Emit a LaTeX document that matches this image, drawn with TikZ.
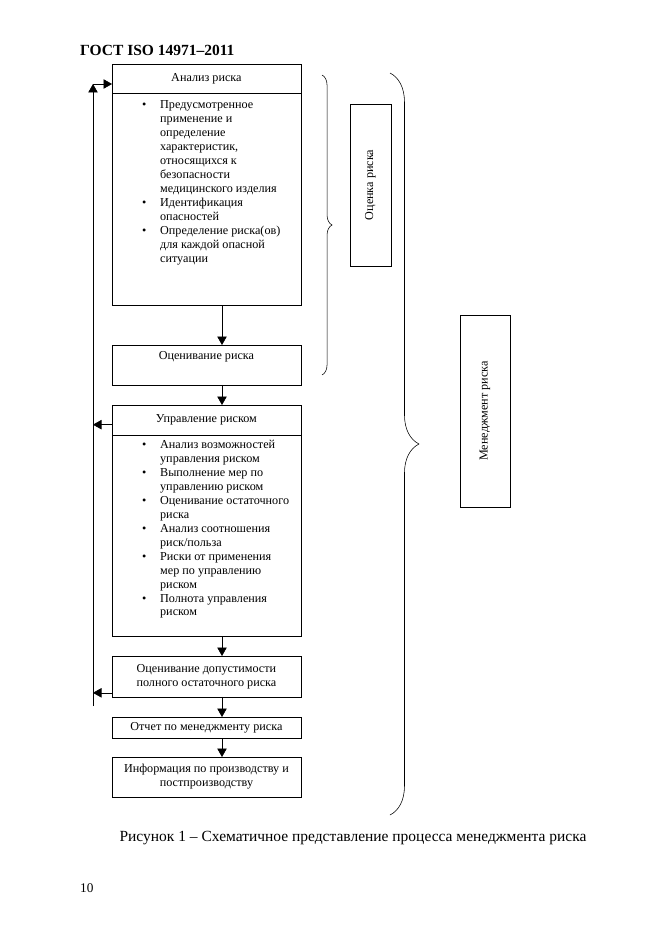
\documentclass[tikz,border=0pt]{standalone}
\usepackage{fontspec}
\setmainfont{Liberation Serif}
\usetikzlibrary{arrows.meta,decorations.pathreplacing,calc}

\begin{document}
\begin{tikzpicture}[x=0.3177mm,y=-0.3177mm,
		stepbox/.style={draw, line width=0.6pt, minimum width=60mm, anchor=north west, inner sep=0pt, outer sep=0pt, align=center, font=\fontsize{11}{12.6}\selectfont},
		sidebox/.style={draw, line width=0.6pt, rotate=90, inner sep=0pt, font=\fontsize{11}{12.6}\selectfont},
		listtext/.style={anchor=north west, inner sep=0pt, align=left, font=\fontsize{11}{12.6}\selectfont},
		flow/.style={-{Triangle[length=2.7mm,width=3mm]}, line width=0.5pt},
		bracket/.style={decorate, line width=0.5pt}
		]
	\useasboundingbox (0,0) rectangle (661,936);
	\node[anchor=west, inner sep=0pt, font=\bfseries\fontsize{14}{16}\selectfont] (gost) at (80,50) {ГОСТ ISO 14971–2011};
	\coordinate (spine) at (222,0);
	\coordinate (back) at (93,706);
	\coordinate (backtop) at (93,84);
	\node[stepbox, minimum height=9.2mm] (analiz) at (112,64) {Анализ риска};
	\node[stepbox, minimum height=67.4mm, anchor=north] (analizbody) at (analiz.south) {};
	\node[listtext] (analizlist) at (142,98.7) {%
		\begin{tabular}{@{}p{5.7mm}@{}l@{}}
			\textbullet & Предусмотренное\\
			& применение и\\
			& определение\\
			& характеристик,\\
			& относящихся к\\
			& безопасности\\
			& медицинского изделия\\
			\textbullet & Идентификация\\
			& опасностей\\
			\textbullet & Определение риска(ов)\\
			& для каждой опасной\\
			& ситуации
		\end{tabular}};
	\node[stepbox, minimum height=12.7mm] (ocenka) at (112,345) {};
	\node[inner sep=0pt, font=\fontsize{11}{12.6}\selectfont] (ocenkat) at ($(ocenka.north)+(0,12)$) {Оценивание риска};
	\node[stepbox, minimum height=9.5mm] (upravl) at (112,405) {Управление риском};
	\node[stepbox, minimum height=63.9mm, anchor=north] (upravlbody) at (upravl.south) {};
	\node[listtext] (upravllist) at (142,438.7) {%
		\begin{tabular}{@{}p{5.7mm}@{}l@{}}
			\textbullet & Анализ возможностей\\
			& управления риском\\
			\textbullet & Выполнение мер по\\
			& управлению риском\\
			\textbullet & Оценивание остаточного\\
			& риска\\
			\textbullet & Анализ соотношения\\
			& риск/польза\\
			\textbullet & Риски от применения\\
			& мер по управлению\\
			& риском\\
			\textbullet & Полнота управления\\
			& риском
		\end{tabular}};
	\node[stepbox, minimum height=13mm] (dopust) at (112,656) {Оценивание допустимости\\полного остаточного риска};
	\node[stepbox, minimum height=6.7mm] (otchet) at (112,717) {Отчет по менеджменту риска};
	\node[stepbox, minimum height=12.7mm] (info) at (112,757) {Информация по производству и\\постпроизводству};
	\draw[flow] (analizbody.south -| spine) -- (ocenka.north -| spine);
	\draw[flow] (ocenka.south -| spine) -- (upravl.north -| spine);
	\draw[flow] (upravlbody.south -| spine) -- (dopust.north -| spine);
	\draw[flow] (dopust.south -| spine) -- (otchet.north -| spine);
	\draw[flow] (otchet.south -| spine) -- (info.north -| spine);
	\draw[flow] (back) -- (backtop);
	\draw[flow] (backtop) -- (backtop -| analiz.west);
	\draw[flow] ([yshift=-1.5mm]upravl.west) -- ([yshift=-1.5mm]upravl.west -| back);
	\draw[flow] ([yshift=1.3mm]dopust.south west) -- ([yshift=1.3mm]dopust.south west -| back);
	\draw[bracket, decoration={brace, amplitude=3.2mm}] (322,75) -- (322,375);
	\draw[bracket, decoration={brace, amplitude=9.2mm}] (390,73) -- (390,815);
	\node[sidebox, minimum width=51.5mm, minimum height=13mm] (ocrisk) at (370.5,185) {Оценка риска};
	\node[sidebox, minimum width=61mm, minimum height=15.9mm] (menrisk) at (485,411) {Менеджмент риска};
	\node[font=\fontsize{14}{16}\selectfont] (caption) at (353,838) {Рисунок 1 – Схематичное представление процесса менеджмента риска};
	\node[anchor=west, inner sep=0pt, font=\fontsize{12}{14}\selectfont] (pagenum) at (80,888) {10};
\end{tikzpicture}
\end{document}
